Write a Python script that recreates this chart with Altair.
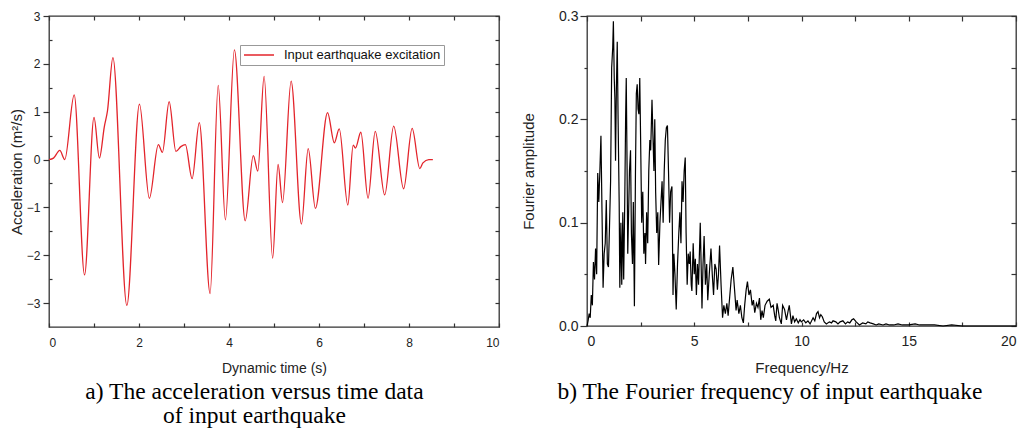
import altair as alt
import pandas as pd

# ---- panel a: input earthquake acceleration ----
time_s = [0.00, 0.10, 0.24, 0.35, 0.56, 0.79, 1.00, 1.12, 1.23, 1.30, 1.42,
          1.73, 2.01, 2.23, 2.43, 2.52, 2.67, 2.82, 2.93, 3.03, 3.18, 3.34,
          3.58, 3.76, 3.92, 4.12, 4.36, 4.54, 4.64, 4.78, 4.97, 5.09, 5.19,
          5.38, 5.61, 5.76, 5.92, 6.19, 6.34, 6.45, 6.64, 6.76, 6.81, 6.93,
          7.09, 7.25, 7.46, 7.66, 7.88, 8.07, 8.24, 8.31, 8.44, 8.53]
accel = [0.00, 0.03, 0.19, 0.00, 1.35, -2.41, 0.88, 0.03, 0.69, 1.02, 2.13,
         -3.05, 1.16, -0.81, 0.31, 0.15, 1.21, 0.17, 0.27, 0.31, -0.40, 0.77,
         -2.80, 1.55, -1.26, 2.29, -1.28, 0.08, -0.24, 1.74, -2.06, -0.10, -0.90,
         1.64, -1.35, 0.23, -1.02, 0.98, 0.35, 0.64, -0.95, 0.30, 0.24, 0.57,
         -0.81, 0.59, -0.74, 0.70, -0.61, 0.65, -0.19, -0.07, 0.00, 0.00]
legend_label = "Input earthquake excitation"

# ---- panel b: Fourier amplitude spectrum ----
freq_hz = [0.00, 0.05, 0.10, 0.15, 0.20, 0.25, 0.30, 0.35, 0.40, 0.45, 0.50, 0.55,
           0.60, 0.65, 0.70, 0.75, 0.80, 0.85, 0.90, 0.95, 1.00, 1.05, 1.10, 1.15,
           1.20, 1.23, 1.27, 1.30, 1.33, 1.37, 1.41, 1.45, 1.50, 1.53, 1.58, 1.62,
           1.67, 1.71, 1.76, 1.80, 1.83, 1.87, 1.90, 1.94, 1.98, 2.03, 2.07, 2.12,
           2.16, 2.21, 2.26, 2.30, 2.34, 2.38, 2.42, 2.46, 2.50, 2.55, 2.60, 2.65,
           2.70, 2.73, 2.78, 2.83, 2.88, 2.93, 2.97, 3.03, 3.08, 3.12, 3.16, 3.20,
           3.25, 3.30, 3.34, 3.40, 3.45, 3.50, 3.55, 3.60, 3.65, 3.70, 3.75, 3.80,
           3.85, 3.90, 3.96, 4.01, 4.05, 4.10, 4.16, 4.22, 4.28, 4.33, 4.38, 4.43,
           4.48, 4.53, 4.58, 4.62, 4.67, 4.72, 4.77, 4.81, 4.86, 4.89, 4.95, 5.00,
           5.05, 5.10, 5.15, 5.20, 5.28, 5.33, 5.36, 5.41, 5.46, 5.52, 5.58, 5.63,
           5.70, 5.78, 5.84, 5.90, 5.96, 6.02, 6.08, 6.13, 6.18, 6.25, 6.32, 6.38,
           6.45, 6.52, 6.58, 6.64, 6.72, 6.80, 6.88, 6.95, 7.00, 7.08, 7.15, 7.22,
           7.29, 7.35, 7.42, 7.48, 7.55, 7.62, 7.70, 7.76, 7.82, 7.90, 7.97, 8.04,
           8.10, 8.16, 8.22, 8.30, 8.40, 8.50, 8.58, 8.68, 8.75, 8.80, 8.86, 8.91,
           8.97, 9.06, 9.12, 9.21, 9.30, 9.38, 9.43, 9.53, 9.60, 9.68, 9.76, 9.85,
           9.93, 9.99, 10.10, 10.20, 10.30, 10.40, 10.54, 10.62, 10.70, 10.77, 10.84,
           10.90, 10.97, 11.06, 11.16, 11.30, 11.40, 11.47, 11.60, 11.70, 11.80,
           11.93, 12.05, 12.15, 12.25, 12.35, 12.43, 12.55, 12.70, 12.85, 13.00,
           13.09, 13.20, 13.35, 13.48, 13.60, 13.80, 13.94, 14.10, 14.30, 14.50,
           14.70, 15.00, 15.30, 15.50, 15.80, 16.20, 16.60, 17.00, 17.50, 18.00,
           19.00, 20.00]
amp = [0.000, 0.005, 0.012, 0.008, 0.030, 0.020, 0.062, 0.045, 0.075, 0.050, 0.148, 0.120,
       0.150, 0.184, 0.110, 0.037, 0.070, 0.080, 0.122, 0.060, 0.057, 0.097, 0.140, 0.250,
       0.270, 0.295, 0.240, 0.220, 0.160, 0.230, 0.275, 0.200, 0.120, 0.037, 0.100, 0.040,
       0.110, 0.045, 0.120, 0.200, 0.240, 0.150, 0.070, 0.110, 0.150, 0.170, 0.090, 0.060,
       0.120, 0.019, 0.150, 0.225, 0.234, 0.210, 0.205, 0.240, 0.180, 0.100, 0.130, 0.070,
       0.090, 0.060, 0.110, 0.080, 0.150, 0.180, 0.170, 0.219, 0.180, 0.150, 0.200, 0.130,
       0.090, 0.110, 0.059, 0.100, 0.120, 0.140, 0.100, 0.150, 0.180, 0.192, 0.194, 0.150,
       0.100, 0.130, 0.135, 0.030, 0.070, 0.050, 0.016, 0.060, 0.090, 0.110, 0.080, 0.140,
       0.120, 0.150, 0.163, 0.090, 0.040, 0.070, 0.060, 0.072, 0.040, 0.034, 0.080, 0.050,
       0.065, 0.030, 0.060, 0.040, 0.100, 0.050, 0.017, 0.060, 0.087, 0.040, 0.060, 0.025,
       0.050, 0.075, 0.050, 0.030, 0.060, 0.055, 0.035, 0.050, 0.078, 0.040, 0.008, 0.020,
       0.012, 0.022, 0.010, 0.025, 0.045, 0.057, 0.035, 0.015, 0.025, 0.012, 0.020, 0.008,
       0.003, 0.020, 0.035, 0.043, 0.030, 0.035, 0.020, 0.025, 0.013, 0.022, 0.018, 0.027,
       0.006, 0.015, 0.008, 0.020, 0.024, 0.026, 0.018, 0.020, 0.010, 0.005, 0.022, 0.016,
       0.008, 0.002, 0.020, 0.016, 0.006, 0.015, 0.020, 0.002, 0.010, 0.004, 0.007, 0.003,
       0.006, 0.004, 0.006, 0.003, 0.005, 0.002, 0.008, 0.005, 0.012, 0.014, 0.008,
       0.011, 0.009, 0.004, 0.002, 0.004, 0.003, 0.005, 0.004, 0.002, 0.004,
       0.005, 0.002, 0.004, 0.003, 0.006, 0.007, 0.004, 0.001, 0.003, 0.002,
       0.004, 0.003, 0.002, 0.001, 0.002, 0.001, 0.002, 0.001, 0.001, 0.002,
       0.001, 0.001, 0.002, 0.001, 0.001, 0.001, 0.000, 0.001, 0.000, 0.000,
       0.000, 0.000]

caption_a = ["a) The acceleration versus time data", "of input earthquake"]
caption_b = "b) The Fourier frequency of input earthquake"

x_ticks_a = [0, 1, 2, 3, 4, 5, 6, 7, 8, 9, 10]
y_major_a = [-3, -2, -1, 0, 1, 2, 3]
y_minor_a = [-2.5, -1.5, -0.5, 0.5, 1.5, 2.5]
y_all_a = [-3, -2.5, -2, -1.5, -1, -0.5, 0, 0.5, 1, 1.5, 2, 2.5, 3]
x_ticks_b = [0, 2.5, 5, 7.5, 10, 12.5, 15, 17.5, 20]
y_major_b = [0.0, 0.1, 0.2, 0.3]
y_minor_b = [0.05, 0.15, 0.25]
y_all_b = [0.0, 0.05, 0.1, 0.15, 0.2, 0.25, 0.3]

df_a = pd.DataFrame({"t": time_s, "a": accel, "series": legend_label})
df_b = pd.DataFrame({"f": freq_hz, "amp": amp})

AX = "#333333"
SANS = "Liberation Sans"
SERIF = "Liberation Serif"

xa = alt.Scale(domain=[0, 10], nice=False, zero=False)
ya = alt.Scale(domain=[-3.5, 3], nice=False, zero=False)
xb = alt.Scale(domain=[0, 20], nice=False, zero=False)
yb = alt.Scale(domain=[0, 0.3], nice=False, zero=False)


def tick_axis(orient, values, size, offset):
    return alt.Axis(orient=orient, values=values, labels=False, tickSize=size,
                    offset=offset, domain=False, grid=False, minExtent=0)


base_a = alt.Chart(df_a)
a1 = base_a.mark_line(interpolate="monotone", strokeWidth=1.3).encode(
    x=alt.X("t:Q", scale=xa, title="Dynamic time (s)",
            axis=alt.Axis(orient="bottom", values=x_ticks_a, format="d",
                          labelExpr="datum.value % 2 === 0 ? datum.label : ''",
                          tickSize=4, offset=-4, labelPadding=10, domain=False, grid=False,
                          titlePadding=13, titleFontSize=14, labelFontSize=12, minExtent=0)),
    y=alt.Y("a:Q", scale=ya, title="Acceleration (m²/s)",
            axis=alt.Axis(orient="left", values=y_major_a, format="d",
                          tickSize=6, labelPadding=3, domain=False, grid=False,
                          titlePadding=2, titleFontSize=15, labelFontSize=12, minExtent=0)),
    color=alt.Color("series:N", scale=alt.Scale(range=["#e3242b"]),
                    legend=alt.Legend(title=None, orient="none", legendX=191, legendY=29,
                                      direction="vertical", symbolType="M-2.5,0H2.5",
                                      symbolSize=144, symbolStrokeWidth=1.5,
                                      symbolOffset=9, labelOffset=18,
                                      labelFont=SANS, labelFontSize=13, labelColor="#111",
                                      strokeColor="#999999", fillColor="white",
                                      padding=3, labelLimit=400)),
)
a2 = base_a.mark_line(opacity=0).encode(
    x=alt.X("t:Q", scale=xa, title=None, axis=tick_axis("top", x_ticks_a, 4, -4)),
    y=alt.Y("a:Q", scale=ya, title=None, axis=tick_axis("right", y_all_a, 4, -4)),
)
a3 = base_a.mark_line(opacity=0).encode(
    x=alt.X("t:Q", scale=xa, axis=None),
    y=alt.Y("a:Q", scale=ya, title=None, axis=tick_axis("left", y_minor_a, 3, -3)),
)
panel_a = alt.layer(a1, a2, a3).resolve_axis(x="independent", y="independent").properties(
    width=450, height=311,
    title=alt.TitleParams(text=caption_a, orient="bottom", anchor="middle", frame="bounds",
                          font=SERIF, fontSize=23.5, fontWeight="normal", lineHeight=24,
                          color="black", offset=5),
)

base_b = alt.Chart(df_b)
b1 = base_b.mark_line(strokeWidth=1.2, color="black").encode(
    x=alt.X("f:Q", scale=xb, title="Frequency/Hz",
            axis=alt.Axis(orient="bottom", values=x_ticks_b,
                          labelExpr="datum.value % 5 === 0 ? datum.label : ''",
                          tickSize=4, offset=-4, labelPadding=8, domain=False, grid=False,
                          titlePadding=12, titleFontSize=15, labelFontSize=14, minExtent=0)),
    y=alt.Y("amp:Q", scale=yb, title="Fourier amplitude",
            axis=alt.Axis(orient="left", values=y_major_b, format=".1f",
                          tickSize=7, labelPadding=2, domain=False, grid=False,
                          titlePadding=22, titleFontSize=15, labelFontSize=14, minExtent=0)),
)
b2 = base_b.mark_line(opacity=0).encode(
    x=alt.X("f:Q", scale=xb, title=None, axis=tick_axis("top", x_ticks_b, 5, -5)),
    y=alt.Y("amp:Q", scale=yb, title=None, axis=tick_axis("right", y_all_b, 5, -5)),
)
b3 = base_b.mark_line(opacity=0).encode(
    x=alt.X("f:Q", scale=xb, axis=None),
    y=alt.Y("amp:Q", scale=yb, title=None, axis=tick_axis("left", y_minor_b, 3, 0)),
)
panel_b = alt.layer(b1, b2, b3).resolve_axis(x="independent", y="independent").properties(
    width=429, height=310,
    title=alt.TitleParams(text=caption_b, orient="bottom", anchor="middle", frame="bounds",
                          font=SERIF, fontSize=23.5, fontWeight="normal",
                          color="black", offset=5),
)

chart = alt.hconcat(panel_a, panel_b, spacing=88, bounds="flush").properties(
    padding={"left": 0, "top": 0, "right": 0, "bottom": 0}
).configure_view(
    stroke=AX, strokeWidth=1.3
).configure_axis(
    labelFont=SANS, titleFont=SANS, tickColor=AX, labelColor="#222222",
    titleColor="#222222", titleFontWeight="normal", tickWidth=1.2, minExtent=0
).configure_axisY(
    minExtent=0
)

chart.save("out.html", embed_options={"renderer": "svg", "actions": False})
